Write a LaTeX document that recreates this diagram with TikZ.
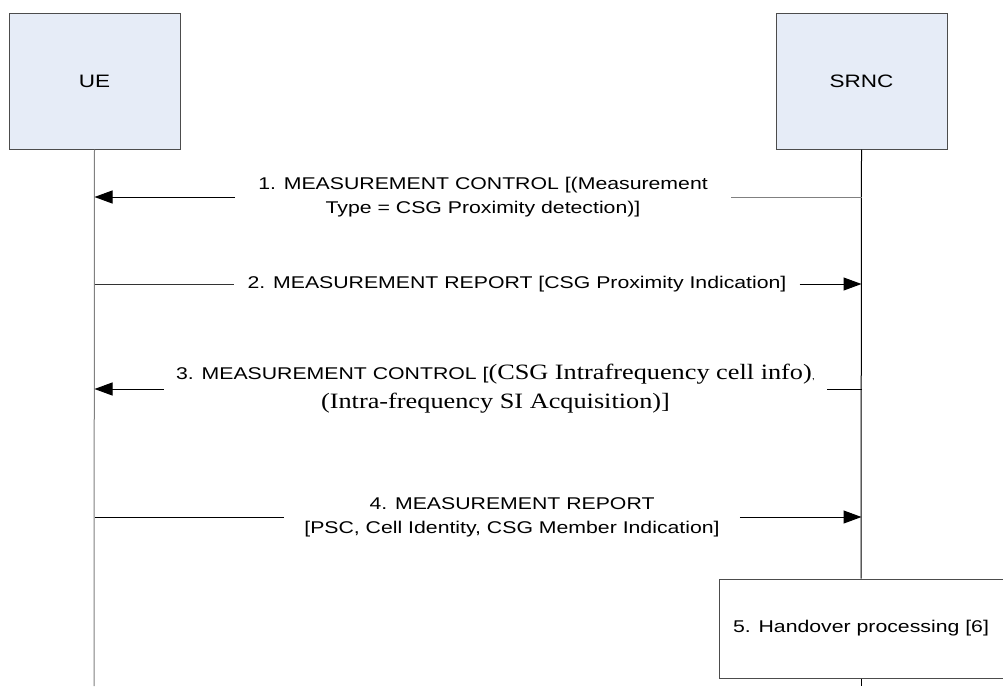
\documentclass[tikz,border=0pt]{standalone}
\usepackage{fontspec}
\setmainfont{Liberation Sans}[FakeStretch=1.25]
\newfontfamily\timesfont{Liberation Serif}[FakeStretch=1.2]
\usetikzlibrary{positioning, arrows.meta}
\definecolor{boxblue}{HTML}{E6ECF7}
\definecolor{linegray}{HTML}{808080}

\begin{document}
\begin{tikzpicture}[x=1pt, y=-1pt,
  entity/.style={draw=black!70, fill=boxblue, line width=1pt, minimum width=171pt,
    minimum height=136pt, font=\fontsize{18}{21}\selectfont},
  msgtext/.style={align=center, inner ysep=0pt, font=\fontsize{17}{24}\selectfont},
  procbox/.style={draw=black!70, fill=white, line width=1pt, minimum width=284pt,
    minimum height=99pt, font=\fontsize{17}{24}\selectfont},
  msg/.style={-{Triangle[length=18pt,width=13pt]}, line width=1pt},
  plain/.style={line width=1pt},
  lifeline/.style={line width=1pt}
]
\useasboundingbox (0,0) rectangle (1003,686);

% Entities
\node[entity] (ue) at (94.5,81) {UE};
\node[entity] (srnc) at (861.5,81) {SRNC};

% Step 5 box on the SRNC lifeline
\node[procbox] (p5) at (861,628.5) {5. Handover processing [6]};

% Lifeline ends
\coordinate (ueend) at (94,686);
\coordinate (srncend) at (861,686);

% Lifelines
\draw[lifeline, linegray] (ue.south) -- (ueend);
\draw[lifeline] (srnc.south) -- (p5.north);
\draw[lifeline] (p5.south) -- (srncend);

% Message texts
\node[msgtext, inner xsep=23pt] (m1) at (483,197)
  {1. MEASUREMENT CONTROL [(Measurement\\Type = CSG Proximity detection)]};
\node[msgtext, inner xsep=13pt] (m2) at (517,284)
  {2. MEASUREMENT REPORT [CSG Proximity Indication]};
\node[msgtext, inner xsep=12pt, font=\fontsize{17}{29}\selectfont] (m3) at (495.5,389)
  {3. MEASUREMENT CONTROL [{\timesfont\fontsize{21.9}{29}\selectfont(CSG Intrafrequency cell info)}{\fontsize{9}{9}\selectfont,}\\
   {\timesfont\fontsize{21.9}{29}\selectfont(Intra-frequency SI Acquisition)]}};
\node[msgtext, inner xsep=20pt] (m4) at (512,517)
  {4. MEASUREMENT REPORT\\{}[PSC, Cell Identity, CSG Member Indication]};

% Arrows: SRNC -> UE
\draw[plain, linegray] (m1.east -| srnc.south) -- (m1.east);
\draw[msg] (m1.west) -- (m1.west -| ue.south);
\draw[plain] (m3.east -| srnc.south) -- (m3.east);
\draw[msg] (m3.west) -- (m3.west -| ue.south);

% Arrows: UE -> SRNC
\draw[plain, black!80] (m2.west -| ue.south) -- (m2.west);
\draw[msg] (m2.east) -- (m2.east -| srnc.south);
\draw[plain] (m4.west -| ue.south) -- (m4.west);
\draw[msg] (m4.east) -- (m4.east -| srnc.south);

\end{tikzpicture}
\end{document}
